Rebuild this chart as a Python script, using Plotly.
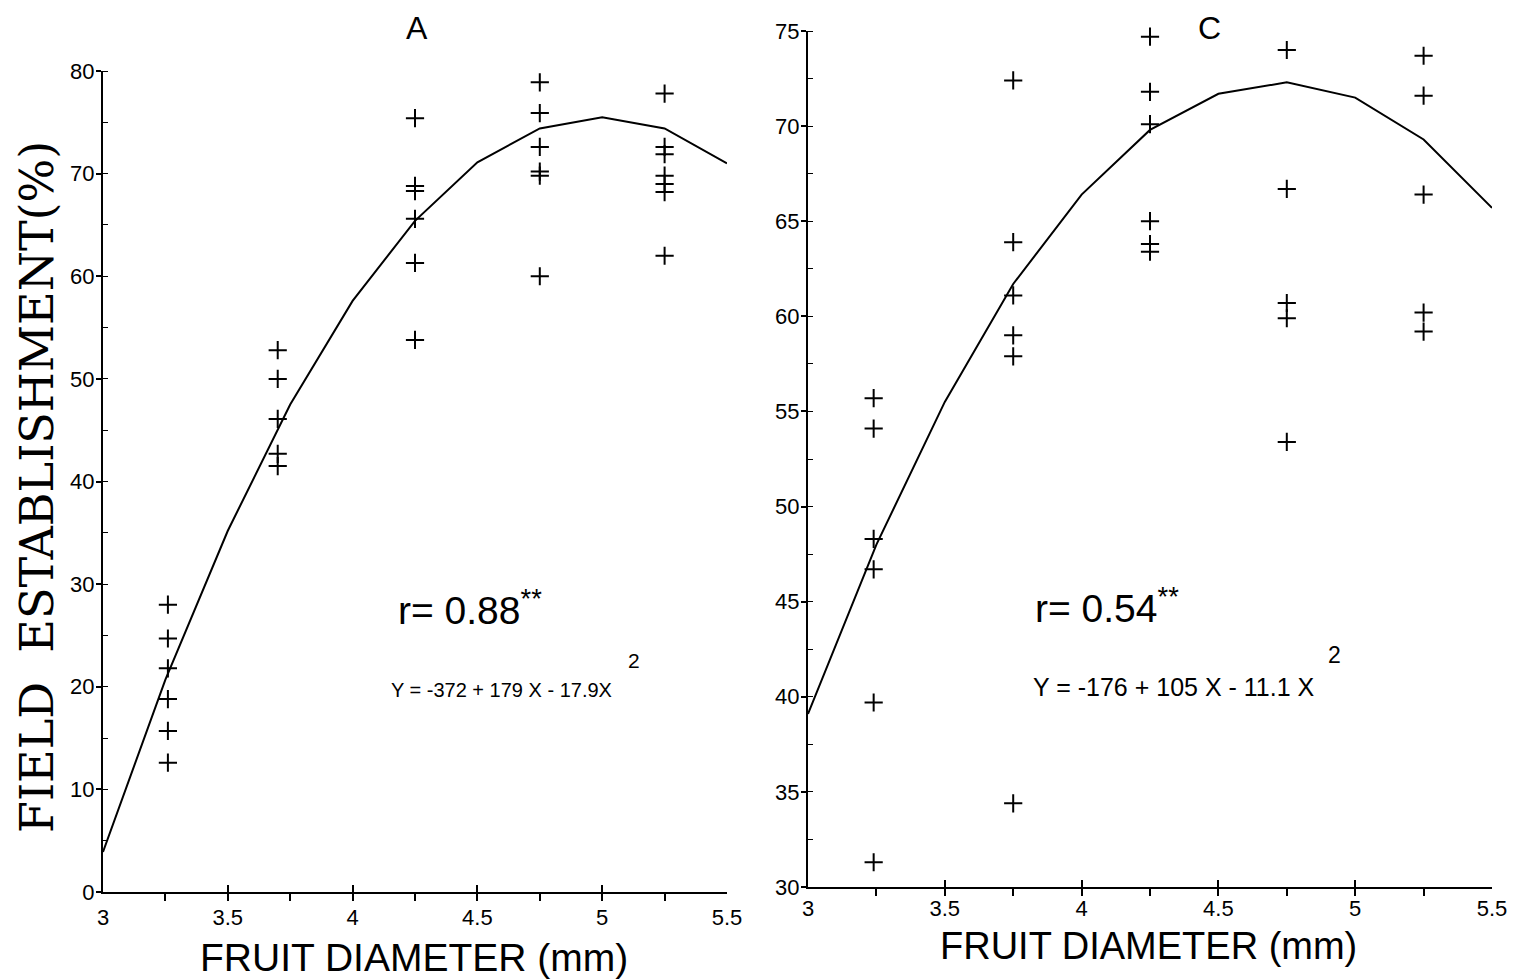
import plotly.graph_objects as go

W, H = 1518, 979

# ---- Panel A data ----
a_x = [3.26]*6 + [3.7]*5 + [4.25]*6 + [4.75]*6 + [5.25]*7
a_y = [28.0, 24.7, 21.8, 18.8, 15.7, 12.6,
       52.8, 50.0, 46.1, 42.7, 41.5,
       75.4, 68.8, 68.3, 65.6, 61.3, 53.8,
       78.9, 75.9, 72.6, 70.2, 69.8, 60.0,
       77.8, 72.6, 71.9, 69.8, 69.0, 68.2, 62.0]
a_curve_x = [3.0, 3.25, 3.5, 3.75, 4.0, 4.25, 4.5, 4.75, 5.0, 5.25, 5.5]
a_curve_y = [3.9, 20.7, 35.2, 47.5, 57.6, 65.4, 71.1, 74.4, 75.5, 74.4, 71.0]

# ---- Panel C data ----
c_x = [3.24]*6 + [3.75]*6 + [4.25]*6 + [4.75]*5 + [5.25]*5
c_y = [55.7, 54.1, 48.3, 46.7, 39.7, 31.3,
       72.4, 63.9, 61.1, 59.0, 57.9, 34.4,
       74.7, 71.8, 70.1, 65.0, 63.8, 63.4,
       74.0, 66.7, 60.7, 59.9, 53.4,
       73.7, 71.6, 66.4, 60.2, 59.2]
c_curve_x = [3.0, 3.25, 3.5, 3.75, 4.0, 4.25, 4.5, 4.75, 5.0, 5.25, 5.5]
c_curve_y = [39.1, 48.0, 55.5, 61.7, 66.4, 69.8, 71.7, 72.3, 71.5, 69.3, 65.7]

x_ticks = [3, 3.5, 4, 4.5, 5, 5.5]
x_ticklabels = ["3", "3.5", "4", "4.5", "5", "5.5"]
a_yticks = [0, 10, 20, 30, 40, 50, 60, 70, 80]
c_yticks = [30, 35, 40, 45, 50, 55, 60, 65, 70, 75]


def px(x, y):
    return x / W, 1 - y / H


marker = dict(symbol="cross-thin", size=13, color="black",
              line=dict(width=2, color="black"))

fig = go.Figure()
fig.add_trace(go.Scatter(x=a_curve_x, y=a_curve_y, mode="lines",
                         line=dict(color="black", width=2),
                         xaxis="x", yaxis="y", showlegend=False))
fig.add_trace(go.Scatter(x=a_x, y=a_y, mode="markers", marker=marker,
                         xaxis="x", yaxis="y", showlegend=False, cliponaxis=False))
fig.add_trace(go.Scatter(x=c_curve_x, y=c_curve_y, mode="lines",
                         line=dict(color="black", width=2),
                         xaxis="x2", yaxis="y2", showlegend=False))
fig.add_trace(go.Scatter(x=c_x, y=c_y, mode="markers", marker=marker,
                         xaxis="x2", yaxis="y2", showlegend=False, cliponaxis=False))

tickfont = dict(family="Liberation Sans, Arial, sans-serif", size=22, color="black")

def xaxis_cfg(domain, anchor, standoff):
    return dict(domain=domain, anchor=anchor, range=[3, 5.5], automargin=False,
                tickvals=x_ticks, ticktext=x_ticklabels,
                showgrid=False, zeroline=False, showline=True,
                linecolor="black", linewidth=2,
                ticks="inside", ticklen=7, tickwidth=2, tickcolor="black",
                minor=dict(dtick=0.25, tick0=3, ticks="outside", ticklen=7,
                           tickwidth=2, tickcolor="black", showgrid=False),
                tickfont=tickfont, ticklabelstandoff=standoff)

def yaxis_cfg(domain, anchor, rng, ticks, minor_dt):
    return dict(domain=domain, anchor=anchor, range=rng, automargin=False,
                tickvals=ticks, ticktext=[str(t) for t in ticks],
                showgrid=False, zeroline=False, showline=True,
                linecolor="black", linewidth=2,
                ticks="outside", ticklen=5, tickwidth=2, tickcolor="black",
                minor=dict(dtick=minor_dt, tick0=rng[0], ticks="inside", ticklen=5,
                           tickwidth=1, tickcolor="black", showgrid=False),
                tickfont=tickfont, ticklabelstandoff=-3)

fig.update_layout(
    width=W, height=H,
    margin=dict(l=0, r=0, t=0, b=0, autoexpand=False),
    paper_bgcolor="white", plot_bgcolor="white",
    xaxis=xaxis_cfg([103 / W, 727 / W], "y", 5),
    yaxis=yaxis_cfg([1 - 892 / H, 1 - 71 / H], "x", [0, 80], a_yticks, 5),
    xaxis2=xaxis_cfg([808 / W, 1492 / W], "y2", 1),
    yaxis2=yaxis_cfg([1 - 887 / H, 1 - 31 / H], "x2", [30, 75], c_yticks, 2.5),
)

sans = "Liberation Sans, Arial, sans-serif"
serif = "DejaVu Serif, serif"

annots = [
    # (text, x_px, y_px, size, family, xanchor, angle)
    ("A", 417, 28, 32, sans, "center", 0),
    ("C", 1209, 28, 32, sans, "center", 0),
    ("FRUIT DIAMETER (mm)", 414, 957, 39, sans, "center", 0),
    ("FRUIT DIAMETER (mm)", 1148, 946, 38, sans, "center", 0),
    ("r= 0.88<sup>**</sup>", 396, 607, 39, sans, "left", 0),
    ("Y = -372 + 179 X - 17.9X", 389, 690, 20, sans, "left", 0),
    ("2", 634, 660, 21, sans, "center", 0),
    ("r= 0.54<sup>**</sup>", 1033, 605, 39, sans, "left", 0),
    ("Y = -176 + 105 X - 11.1 X", 1031, 687, 25, sans, "left", 0),
    ("2", 1334, 655, 23, sans, "center", 0),
    ("FIELD  ESTABLISHMENT(%)", 37, 487, 46, serif, "center", -90),
]
for text, x, y, size, fam, xa, ang in annots:
    ax, ay = px(x, y)
    fig.add_annotation(text=text, x=ax, y=ay, xref="paper", yref="paper",
                       xanchor=xa, yanchor="middle", showarrow=False,
                       textangle=ang,
                       font=dict(family=fam, size=size, color="black"))

fig.write_html("out.html")
